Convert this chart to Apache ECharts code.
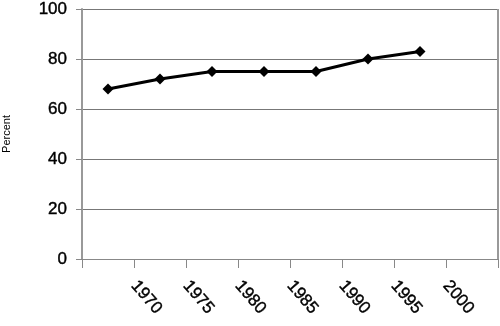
<!DOCTYPE html>
<html><head><meta charset="utf-8">
<script src="https://cdn.jsdelivr.net/npm/echarts@6/dist/echarts.min.js"></script>
<style>html,body{margin:0;padding:0;background:#fff}#c{width:500px;height:326px}</style>
</head><body><div id="c"></div>
<script>
const years = [1967.5, 1972.5, 1977.5, 1982.5, 1987.5, 1992.5, 1997.5];
const percent = [68, 72, 75, 75, 75, 80, 83];
const yTicks = [0, 20, 40, 60, 80, 100];
const xTickLabels = [1970, 1975, 1980, 1985, 1990, 1995, 2000];

const chart = echarts.init(document.getElementById('c'), null, {renderer: 'canvas'});
chart.setOption({
  animation: false,
  grid: {left: 82, right: 2, top: 9, bottom: 67, show: false, containLabel: false, outerBoundsMode: 'none'},
  xAxis: {
    type: 'value', min: 1965, max: 2005, interval: 5,
    axisLine: {show: true, lineStyle: {color: '#888', width: 1}},
    axisTick: {show: true, length: 9, lineStyle: {color: '#888', width: 1}},
    splitLine: {show: false},
    axisLabel: {
      rotate: -49, margin: 24, color: '#000', fontSize: 17,
      textBorderColor: '#000', textBorderWidth: 0.4,
      fontFamily: 'Liberation Sans, Arial, sans-serif',
      formatter: v => xTickLabels.includes(v) ? String(v) : ''
    }
  },
  yAxis: {
    type: 'value', min: yTicks[0], max: yTicks[yTicks.length - 1], interval: 20,
    name: 'Percent', nameLocation: 'middle', nameGap: 70, nameRotate: 90,
    nameTextStyle: {fontSize: 11, color: '#000', fontFamily: 'Liberation Sans, Arial, sans-serif'},
    axisLine: {show: true, lineStyle: {color: '#999', width: 2}},
    axisTick: {show: true, length: 6, lineStyle: {color: '#888', width: 1}},
    splitLine: {show: true, lineStyle: {color: '#777', width: 1}},
    axisLabel: {margin: 15, color: '#000', fontSize: 17, textBorderColor: '#000', textBorderWidth: 0.4,
      fontFamily: 'Liberation Sans, Arial, sans-serif'}
  },
  series: [{
    type: 'line',
    data: years.map((y, i) => [y, percent[i]]),
    symbol: 'diamond', symbolSize: 11,
    lineStyle: {color: '#000', width: 3},
    itemStyle: {color: '#000'}
  }, {
    type: 'line', data: [], markLine: {
      silent: true, symbol: 'none', label: {show: false},
      lineStyle: {color: '#999', width: 2, type: 'solid'},
      data: [[{coord: [2005, 0]}, {coord: [2005, 100]}]]
    }
  }]
});
</script></body></html>
